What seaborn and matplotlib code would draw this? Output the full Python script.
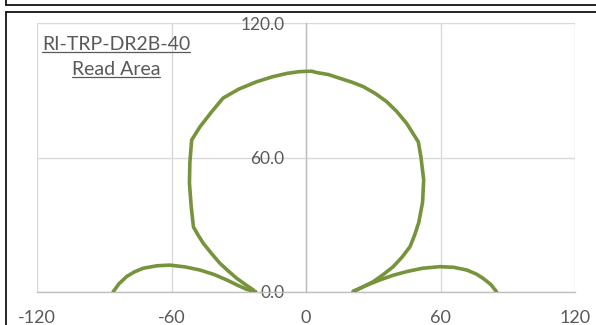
import matplotlib
matplotlib.use("Agg")
import matplotlib.pyplot as plt
from matplotlib.lines import Line2D
import seaborn as sns
import pandas as pd

# ---- data ----
main_x = [21.1, 25.5, 30.0, 34.5, 38.9, 42.8, 46.4, 48.5, 50.3, 52.0, 52.5, 51.3, 50.1,
          44.9, 40.5, 36.0, 31.0, 25.6, 20.5, 15.2, 10.0, 4.8, 2.5, -3.0,
          -8.6, -15.0, -22.0, -30.0, -37.0, -42.0, -47.3, -51.0, -51.8, -52.0, -51.2, -50.2,
          -48.2, -45.8, -42.0, -38.4, -34.7, -30.9, -27.0, -23.5]
main_y = [0.4, 2.3, 4.6, 7.8, 11.3, 15.5, 20.2, 25.5, 31.0, 40.0, 50.0, 60.0, 67.0,
          75.2, 80.5, 84.9, 88.5, 91.6, 93.6, 95.3, 97.0, 97.9, 98.5, 98.3,
          97.5, 96.0, 93.8, 90.5, 86.5, 80.5, 73.7, 67.8, 58.0, 48.6, 38.0, 29.0,
          25.5, 21.7, 17.0, 12.8, 9.4, 6.1, 3.3, 0.9]
left_x = [-86.0, -83.5, -80.0, -76.5, -72.6, -66.5, -60.7, -54.0, -47.3, -41.0, -35.4, -30.5, -26.5, -22.5]
left_y = [0.1, 3.6, 6.9, 9.0, 10.6, 11.7, 12.0, 11.2, 9.8, 7.8, 5.4, 3.0, 1.2, 0.2]
right_x = [21.0, 26.5, 33.0, 39.0, 44.9, 52.0, 59.8, 66.0, 71.7, 76.0, 79.0, 82.5, 85.0]
right_y = [0.1, 2.8, 5.4, 7.5, 9.1, 10.6, 11.3, 11.0, 9.8, 8.0, 6.1, 3.3, 0.1]

x_ticks = [-120, -60, 0, 60, 120]
x_labels = ["-120", "-60", "0", "60", "120"]
y_ticks = [0, 60, 120]
y_labels = ["0.0", "60.0", "120.0"]
title_lines = ["RI-TRP-DR2B-40", "Read Area"]

frames = []
for name, xs, ys in [("main", main_x, main_y), ("left", left_x, left_y), ("right", right_x, right_y)]:
    frames.append(pd.DataFrame({"x": xs, "y": ys, "lobe": name, "order": range(len(xs))}))
df = pd.concat(frames, ignore_index=True)

sns.set_theme(style="white")
plt.rcParams["font.family"] = ["Lato", "DejaVu Sans"]

W, H = 596, 325
fig = plt.figure(figsize=(W / 100, H / 100), dpi=100)
ax = fig.add_axes([37 / W, 1 - 292 / H, (575 - 37) / W, (292 - 23) / H])

sns.lineplot(data=df, x="x", y="y", units="lobe", estimator=None, sort=False,
             color="#77933C", linewidth=2.6, ax=ax, legend=False,
             solid_joinstyle="round", solid_capstyle="round", zorder=3)

ax.set_xlim(-120, 120)
ax.set_ylim(0, 120)
ax.set_xticks(x_ticks)
ax.set_xticklabels(x_labels)
ax.set_yticks(y_ticks)
ax.set_yticklabels(y_labels)
ax.set_xlabel("")
ax.set_ylabel("")

ax.grid(True, color="#d9d9d9", linewidth=1.0)
ax.set_axisbelow(True)
for s in ["top", "right"]:
    ax.spines[s].set_visible(False)
ax.spines["left"].set_position(("data", 0))
ax.spines["left"].set_color("#bfbfbf")
ax.spines["left"].set_linewidth(1.0)
ax.spines["bottom"].set_color("#bfbfbf")
ax.spines["bottom"].set_linewidth(1.0)

ax.tick_params(axis="x", length=0, pad=13, labelsize=13, labelcolor="#595959")
ax.tick_params(axis="y", length=0, pad=15.5, labelsize=12.5, labelcolor="#595959")
for lab in ax.get_yticklabels():
    lab.set_zorder(5)

# title with underline
t1 = fig.text(116 / W, 1 - 50 / H, title_lines[0], ha="center", va="baseline",
              fontsize=14, color="#595959")
t2 = fig.text(116 / W, 1 - 75 / H, title_lines[1], ha="center", va="baseline",
              fontsize=14, color="#595959")
fig.canvas.draw()
for t, uy in [(t1, 52), (t2, 77)]:
    bb = t.get_window_extent()
    fig.add_artist(Line2D([bb.x0 / W, bb.x1 / W], [1 - uy / H, 1 - uy / H],
                          transform=fig.transFigure, color="#595959", linewidth=0.9))

# outer frame lines
fc = "black"
fig.add_artist(Line2D([5.5 / W, 1], [1 - 4.5 / H, 1 - 4.5 / H], transform=fig.transFigure, color=fc, lw=1.2))
fig.add_artist(Line2D([5.5 / W, 5.5 / W], [1, 1 - 4.5 / H], transform=fig.transFigure, color=fc, lw=1.2))
fig.add_artist(Line2D([5.5 / W, 1], [1 - 11.5 / H, 1 - 11.5 / H], transform=fig.transFigure, color=fc, lw=1.2))
fig.add_artist(Line2D([5.5 / W, 5.5 / W], [0, 1 - 11.5 / H], transform=fig.transFigure, color=fc, lw=1.2))

fig.savefig("out.png", dpi=100)
